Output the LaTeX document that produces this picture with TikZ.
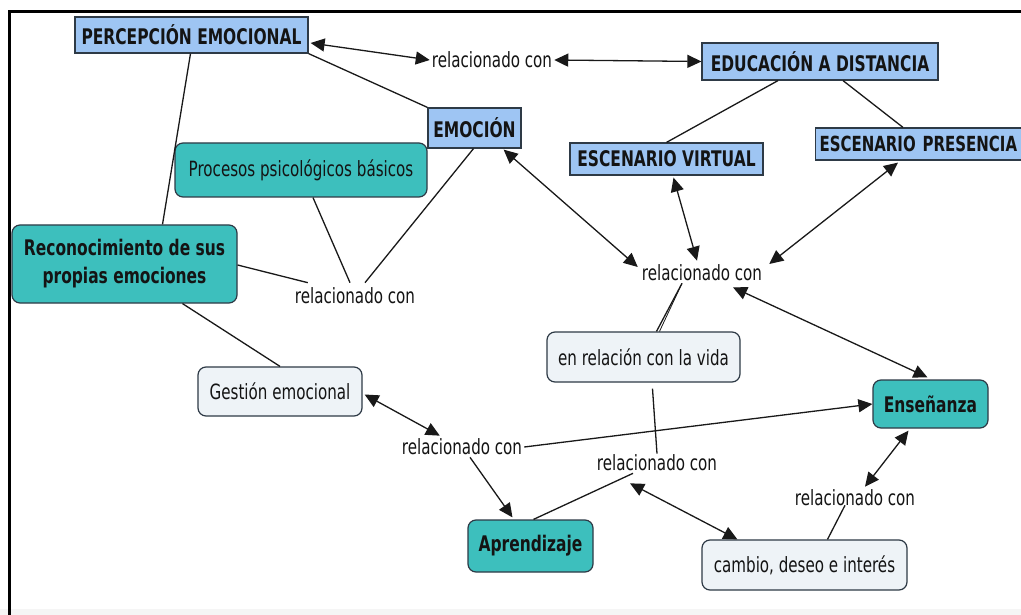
\documentclass[tikz,border=0pt]{standalone}
\usepackage{fontspec}
\setmainfont{DejaVu Sans}[FakeStretch=0.72]
\usetikzlibrary{arrows.meta,calc}
\definecolor{bluefill}{HTML}{9EC5F3}
\definecolor{tealfill}{HTML}{3DBFBD}
\definecolor{palefill}{HTML}{EEF3F7}
\definecolor{edge}{HTML}{2E3A46}
\definecolor{ink}{HTML}{141414}
\begin{document}
\begin{tikzpicture}[x=1pt,y=-1pt,
 every node/.style={font=\fontsize{21}{27}\selectfont, text=ink},
 bluebox/.style={draw=edge, fill=bluefill, line width=1.2pt, font=\fontsize{21.5}{27}\selectfont\bfseries, inner sep=0pt},
 tealbox/.style={draw=edge, fill=tealfill, rounded corners=8pt, line width=1.2pt, inner sep=0pt},
 palebox/.style={draw=edge, fill=palefill, rounded corners=8pt, line width=1.2pt, inner sep=0pt},
 lbl/.style={inner sep=2pt},
 link/.style={line width=1.3pt, draw=black!90},
 both/.style={link, {Triangle[length=14pt,width=13pt]}-{Triangle[length=14pt,width=13pt]}},
 one/.style={link, -{Triangle[length=14pt,width=13pt]}},
]
\path[use as bounding box] (0,0) rectangle (1021,615);
\clip (0,0) rectangle (1021,615);
\fill[white] (0,0) rectangle (1021,615);
\fill[black!4] (0,609) rectangle (1021,615);
\draw[line width=3pt] (9,615) -- (9,12) -- (1021,12);

% concept nodes
\node[bluebox, minimum width=233pt, minimum height=36pt] (perc) at (191.5,35) {PERCEPCIÓN EMOCIONAL};
\node[bluebox, minimum width=236pt, minimum height=37pt] (educ) at (820,61.5) {EDUCACIÓN A DISTANCIA};
\node[bluebox, minimum width=93pt, minimum height=40pt] (emoc) at (474.5,128) {EMOCIÓN};
\node[bluebox, minimum width=193pt, minimum height=32pt] (virt) at (666.5,159) {ESCENARIO VIRTUAL};
\node[bluebox, anchor=west, minimum height=32pt, text width=205pt, inner xsep=4pt, align=left, font=\fontsize{20.8}{27}\selectfont\bfseries] (pres) at (815,144) {ESCENARIO PRESENCIA};
\node[tealbox, minimum width=252pt, minimum height=54pt] (proc) at (301,170) {Procesos psicológicos básicos};
\node[tealbox, minimum width=225pt, minimum height=78pt, align=center, font=\fontsize{21.5}{28}\selectfont\bfseries] (reco) at (124.5,264) {Reconocimiento de sus\\propias emociones};
\node[palebox, minimum width=193pt, minimum height=50pt] (vida) at (643.5,357) {en relación con la vida};
\node[palebox, minimum width=164pt, minimum height=49pt] (gest) at (280,391.5) {Gestión emocional};
\node[tealbox, minimum width=115pt, minimum height=48pt, font=\fontsize{21.5}{27}\selectfont\bfseries] (ense) at (930.5,404) {Enseñanza};
\node[tealbox, minimum width=125pt, minimum height=52pt, font=\fontsize{21.5}{27}\selectfont\bfseries] (apre) at (530.5,546) {Aprendizaje};
\node[palebox, minimum width=205pt, minimum height=50pt] (camb) at (804.5,565) {cambio, deseo e interés};

% linking phrases
\node[lbl] (rel1) at (492,60) {relacionado con};
\node[lbl] (rel2) at (355,296) {relacionado con};
\node[lbl] (rel3) at (702,273) {relacionado con};
\node[lbl] (rel4) at (462,447) {relacionado con};
\node[lbl] (rel5) at (657,463) {relacionado con};
\node[lbl] (rel6) at (855,498) {relacionado con};

% connectors
\draw[both] ($(perc.east)+(2,8)$) -- (rel1.west);
\draw[both] (rel1.east) -- (educ.west);
\draw[link] (perc.south east) -- (emoc.north west);
\draw[link] ($(educ.south)+(-42,0)$) -- (virt.north);
\draw[link] ($(educ.south)+(23,0)$) -- ($(pres.north west)+(88,0)$);
\draw[link] ($(perc.south)+(-1,0)$) -- ($(reco.north)+(38,0)$);
\draw[link] ($(reco.east)+(0,1)$) -- ($(rel2.north west)+(15,-3)$);
\draw[link] ($(proc.south)+(12,0)$) -- ($(rel2.north)+(-5,-3)$);
\draw[link] ($(emoc.south)+(-1,0)$) -- ($(rel2.north)+(10,-3)$);
\draw[link] ($(reco.south)+(58,0)$) -- (gest.north);
\draw[both] ($(emoc.south east)+(-18,1)$) -- ($(rel3.west)+(-2,-6)$);
\draw[both] ($(virt.south)+(7,2)$) -- ($(rel3.north)+(-5,-2)$);
\draw[both] ($(pres.south west)+(83,2)$) -- ($(rel3.east)+(5,-9)$);
\draw[both] ($(ense.north)+(-3,-2)$) -- ($(rel3.south)+(31,4)$);
\draw[link] ($(rel3.south)+(-20,0)$) -- ($(vida.north)+(13,0)$);
\draw[link, line width=0.8pt] ($(rel3.south)+(-20,0)$) -- ($(vida.north)+(16,0)$);
\draw[both] ($(gest.east)+(2,3)$) -- ($(rel4.north west)+(40,-1)$);
\draw[one] (rel4.east) -- (ense.west);
\draw[one] ($(rel4.south)+(8,0)$) -- ($(apre.north)+(-18,-2)$);
\draw[link] ($(rel5.south)+(-24,0)$) -- ($(apre.north)+(3,0)$);
\draw[both] ($(rel5.south)+(-27,10)$) -- ($(camb.north west)+(36,0)$);
\draw[link] ($(vida.south)+(9,6)$) -- ($(rel5.north)+(0,1)$);
\draw[both] ($(ense.south)+(-22,2)$) -- ($(rel6.north)+(10,-1)$);
\draw[link] ($(rel6.south)+(-10,-3)$) -- ($(camb.north)+(23,0)$);
\end{tikzpicture}
\end{document}
